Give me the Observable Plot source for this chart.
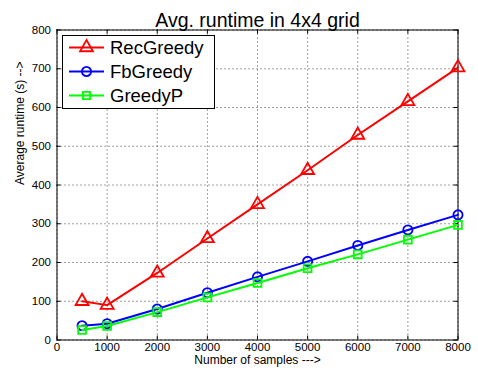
<!DOCTYPE html>
<html>
<head>
<meta charset="utf-8">
<script src="https://cdn.jsdelivr.net/npm/d3@7"></script>
<script src="https://cdn.jsdelivr.net/npm/@observablehq/plot@0.6"></script>
<style>
  html, body { margin: 0; padding: 0; background: #fff; }
  #chart { position: relative; width: 478px; height: 376px; }
  #chart svg { font-family: "Liberation Sans", Arial, Helvetica, sans-serif; }
</style>
</head>
<body>
<div id="chart"></div>
<script>
const samples   = [500, 1000, 2000, 3000, 4000, 5000, 6000, 7000, 8000];
const recGreedy = [100, 90, 173, 262, 350, 438, 529, 616, 703];
const fbGreedy  = [37, 42, 80, 122, 163, 203, 244, 284, 323];
const greedyP   = [26, 36, 72, 110, 147, 185, 221, 259, 297];

const xTicks = [0, 1000, 2000, 3000, 4000, 5000, 6000, 7000, 8000];
const yTicks = [0, 100, 200, 300, 400, 500, 600, 700, 800];

const titleText = "Avg. runtime in 4x4 grid";
const xLabel = "Number of samples --->";
const yLabel = "Average runtime (s) -->";

const seriesNames = ["RecGreedy", "FbGreedy", "GreedyP"];
const seriesValues = [recGreedy, fbGreedy, greedyP];
const seriesColors = ["#ff0000", "#0000ff", "#00ff00"];
const seriesSymbols = ["triangle", "circle", "square"];

const data = seriesNames.flatMap((name, i) =>
  samples.map((x, j) => ({series: name, x, y: seriesValues[i][j]})));

const W = 478, H = 376;
const mL = 56.5, mR = 20.5, mT = 29.5, mB = 36.5;
const innerW = W - mL - mR, innerH = H - mT - mB;
const tickLen = 4;

const marks = [
  Plot.gridX(xTicks, {stroke: "#000", strokeOpacity: 0.75, strokeDasharray: "1,3"}),
  Plot.gridY(yTicks, {stroke: "#000", strokeOpacity: 0.75, strokeDasharray: "1,3"}),
  // inward tick marks on all four sides
  Plot.ruleX(xTicks, {x: d => d, insetTop: innerH - tickLen, stroke: "#000"}),
  Plot.ruleX(xTicks, {x: d => d, insetBottom: innerH - tickLen, stroke: "#000"}),
  Plot.ruleY(yTicks, {y: d => d, insetRight: innerW - tickLen, stroke: "#000"}),
  Plot.ruleY(yTicks, {y: d => d, insetLeft: innerW - tickLen, stroke: "#000"}),
  Plot.axisX(xTicks, {tickSize: 0, tickPadding: 2.5, fontSize: 11.5, label: null, tickFormat: d3.format("d")}),
  Plot.axisY(yTicks, {tickSize: 0, tickPadding: 6, fontSize: 11.5, label: null, tickFormat: d3.format("d")}),
  Plot.frame({stroke: "#000", strokeWidth: 1})
];
seriesNames.forEach((name, i) => {
  const d = data.filter(r => r.series === name);
  marks.push(Plot.line(d, {x: "x", y: "y", stroke: seriesColors[i], strokeWidth: 2}));
  marks.push(Plot.dot(d, {x: "x", y: "y", stroke: seriesColors[i], fill: "none",
    symbol: () => seriesSymbols[i], r: i === 0 ? 4.8 : (i === 1 ? 4.6 : 4.4), strokeWidth: 1.8}));
});
marks.push(Plot.text([titleText], {frameAnchor: "top", dy: -16.5, fontSize: 19.5, fill: "#000", text: d => d}));
marks.push(Plot.text([xLabel], {frameAnchor: "bottom", dy: 23.5, fontSize: 12, fill: "#000", text: d => d}));
marks.push(Plot.text([yLabel], {frameAnchor: "left", dx: -36.5, rotate: -90, fontSize: 12, fill: "#000", text: d => d}));

const plot = Plot.plot({
  width: W, height: H,
  marginLeft: mL, marginRight: mR, marginTop: mT, marginBottom: mB,
  x: {domain: [0, 8000]},
  y: {domain: [0, 800]},
  style: {background: "#fff", color: "#000", fontFamily: "Liberation Sans, Arial, sans-serif"},
  marks
});
document.getElementById("chart").appendChild(plot);

// Legend box drawn inside the plot SVG
const svg = d3.select(plot);
const lg = svg.append("g").attr("class", "legend").attr("text-anchor", "start");
const box = {x: 62.5, y: 35.5, w: 152, h: 73};
lg.append("rect").attr("x", box.x).attr("y", box.y).attr("width", box.w).attr("height", box.h)
  .attr("fill", "#fff").attr("stroke", "#000").attr("stroke-width", 1);
seriesNames.forEach((name, i) => {
  const cy = 47.5 + i * 24;
  const g = lg.append("g");
  g.append("line").attr("x1", 69).attr("x2", 104).attr("y1", cy).attr("y2", cy)
    .attr("stroke", seriesColors[i]).attr("stroke-width", 2);
  const sym = [d3.symbolTriangle, d3.symbolCircle, d3.symbolSquare][i];
  const r = [4.8, 4.6, 4.0][i];
  g.append("path").attr("d", d3.symbol(sym, Math.PI * r * r)())
    .attr("transform", `translate(86.5,${cy})`)
    .attr("fill", "none").attr("stroke", seriesColors[i]).attr("stroke-width", 1.8);
  g.append("text").attr("x", 110).attr("y", cy).attr("dy", "0.36em")
    .attr("text-anchor", "start")
    .attr("font-size", 18.5).attr("fill", "#000").text(name);
});
</script>
</body>
</html>
